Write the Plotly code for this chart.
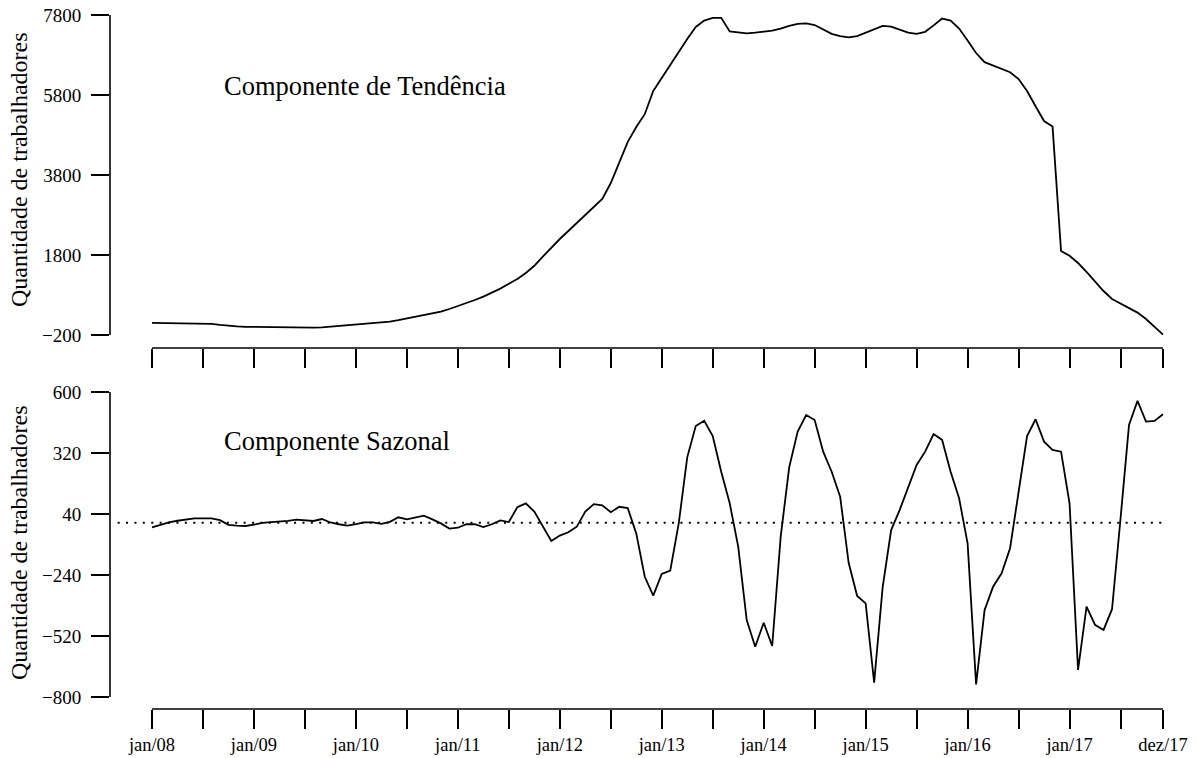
import plotly.graph_objects as go

# Monthly series, jan/2008 .. dez/2017 (index 0..119)
months = list(range(120))

trend = [
    105, 102, 99, 96, 94, 92, 90, 80, 55, 30, 15, 5,
    0, -5, -10, -15, -20, -25, -25, -18, -8, 8, 25, 40,
    55, 70, 85, 105, 135, 170, 210, 250, 290, 335, 385, 450,
    520, 595, 675, 760, 850, 960, 1080, 1200, 1350, 1530, 1760, 1990,
    2200, 2400, 2600, 2800, 3000, 3200, 3600, 4100, 4630, 5000, 5320, 5900,
    6230, 6560, 6880, 7200, 7500, 7660, 7730, 7730, 7390, 7360, 7340, 7360,
    7390, 7410, 7460, 7530, 7580, 7590, 7550, 7440, 7330, 7270, 7240, 7270,
    7360, 7460, 7530, 7510, 7440, 7360, 7330, 7380, 7540, 7710, 7660, 7460,
    7160, 6850, 6620, 6530, 6460, 6370, 6200, 5900, 5520, 5150, 5010, 1900,
    1780, 1600, 1380, 1130, 900, 700, 580, 480, 360, 200, 10, -190,
]

seasonal = [
    -21, -10, 2, 9, 15, 20, 20, 20, 12, -10, -13, -15,
    -9, -1, 3, 5, 8, 14, 11, 8, 17, 1, -7, -13,
    -7, 2, 2, -5, 4, 25, 15, 23, 32, 15, -3, -27,
    -23, -7, -7, -20, -7, 11, 3, 71, 89, 51, -18, -84,
    -59, -44, -18, 51, 85, 80, 48, 73, 67, -49, -248, -335,
    -235, -220, -3, 300, 444, 468, 398, 234, 89, -110, -447, -569,
    -459, -566, -64, 254, 418, 494, 471, 326, 234, 119, -184, -336,
    -370, -734, -297, -34, 58, 165, 265, 326, 407, 380, 234, 112,
    -95, -742, -401, -294, -232, -117, 135, 398, 475, 372, 334, 326,
    89, -676, -385, -469, -492, -397, 18, 449, 559, 464, 467, 498,
]

x_tickvals = list(range(0, 120, 6)) + [119]
x_labels = {0: "jan/08", 12: "jan/09", 24: "jan/10", 36: "jan/11", 48: "jan/12",
            60: "jan/13", 72: "jan/14", 84: "jan/15", 96: "jan/16", 108: "jan/17",
            119: "dez/17"}
x_ticktext = [x_labels.get(v, "") for v in x_tickvals]

trend_ticks = [-200, 1800, 3800, 5800, 7800]
seasonal_ticks = [-800, -520, -240, 40, 320, 600]

def fmt(v):
    return ("\u2212" + str(-v)) if v < 0 else str(v)

y_title = "Quantidade de trabalhadores"
trend_label = "Componente de Tendência"
seasonal_label = "Componente Sazonal"

# ---- page geometry (pixels) ----
W, H = 1196, 758
ML, MB = 110, 49
PW, PH = W - ML, H - MB

def py(pix):  # pixel row -> paper y
    return 1 - pix / PH

def px(pix):  # pixel column -> paper x
    return (pix - ML) / PW

FONT = "Liberation Serif, Times New Roman, serif"
BLACK = "#000000"

x_range = [-4.944, 122.884]
top_range = [-525, 8125]
bot_range = [-855, 655]

fig = go.Figure()
fig.add_trace(go.Scatter(x=months, y=trend, mode="lines",
                         line=dict(color=BLACK, width=1.8),
                         xaxis="x", yaxis="y", showlegend=False))
fig.add_trace(go.Scatter(x=months, y=seasonal, mode="lines",
                         line=dict(color=BLACK, width=1.8),
                         xaxis="x2", yaxis="y2", showlegend=False))

common_x = dict(range=x_range, showgrid=False, zeroline=False, showline=False,
                ticks="outside", ticklen=19, tickwidth=1.6, tickcolor=BLACK,
                tickvals=x_tickvals, fixedrange=True, automargin=False)
common_y = dict(showgrid=False, zeroline=False, showline=False,
                ticks="outside", ticklen=18, tickwidth=1.6, tickcolor=BLACK,
                ticklabelstandoff=6, automargin=False,
                tickfont=dict(family=FONT, size=19, color=BLACK))

fig.update_layout(
    width=W, height=H, autosize=False,
    margin=dict(l=ML, r=0, t=0, b=MB, autoexpand=False),
    paper_bgcolor="white", plot_bgcolor="white",
    font=dict(family=FONT, color=BLACK),
    xaxis=dict(**common_x, anchor="y", showticklabels=False),
    xaxis2=dict(**common_x, anchor="y2", ticktext=x_ticktext,
                ticklabelstandoff=0,
                tickfont=dict(family=FONT, size=18.5, color=BLACK)),
    yaxis=dict(**common_y, domain=[py(348), py(2)], range=top_range,
               tickvals=trend_ticks, ticktext=[fmt(v) for v in trend_ticks]),
    yaxis2=dict(**common_y, domain=[py(709), py(380)], range=bot_range,
                tickvals=seasonal_ticks, ticktext=[fmt(v) for v in seasonal_ticks]),
)

shapes = []
# axis lines spanning first to last tick (base-graphics style)
shapes.append(dict(type="line", xref="paper", yref="y", x0=0, x1=0,
                   y0=trend_ticks[0], y1=trend_ticks[-1],
                   line=dict(color=BLACK, width=1.6)))
shapes.append(dict(type="line", xref="paper", yref="y2", x0=0, x1=0,
                   y0=seasonal_ticks[0], y1=seasonal_ticks[-1],
                   line=dict(color=BLACK, width=1.6)))
shapes.append(dict(type="line", xref="x", yref="y domain", x0=x_tickvals[0],
                   x1=x_tickvals[-1], y0=0, y1=0,
                   line=dict(color=BLACK, width=1.6)))
shapes.append(dict(type="line", xref="x2", yref="y2 domain", x0=x_tickvals[0],
                   x1=x_tickvals[-1], y0=0, y1=0,
                   line=dict(color=BLACK, width=1.6)))
# dotted zero reference in the seasonal panel
shapes.append(dict(type="line", xref="x2", yref="y2", x0=x_range[0] + 0.9,
                   x1=months[-1] + 0.5, y0=0, y1=0,
                   line=dict(color=BLACK, width=2, dash="2px,6.4px")))
fig.update_layout(shapes=shapes)

annotations = [
    dict(text=y_title, xref="paper", yref="paper", x=px(19), y=py(170),
         textangle=-90, showarrow=False, xanchor="center", yanchor="middle",
         font=dict(family=FONT, size=24, color=BLACK)),
    dict(text=y_title, xref="paper", yref="paper", x=px(19), y=py(543),
         textangle=-90, showarrow=False, xanchor="center", yanchor="middle",
         font=dict(family=FONT, size=24, color=BLACK)),
    dict(text=trend_label, xref="paper", yref="paper", x=px(222), y=py(86),
         showarrow=False, xanchor="left", yanchor="middle",
         font=dict(family=FONT, size=26.5, color=BLACK)),
    dict(text=seasonal_label, xref="paper", yref="paper", x=px(222), y=py(441),
         showarrow=False, xanchor="left", yanchor="middle",
         font=dict(family=FONT, size=26.5, color=BLACK)),
]
fig.update_layout(annotations=annotations)

fig.write_html("out.html", config={"displayModeBar": False})
